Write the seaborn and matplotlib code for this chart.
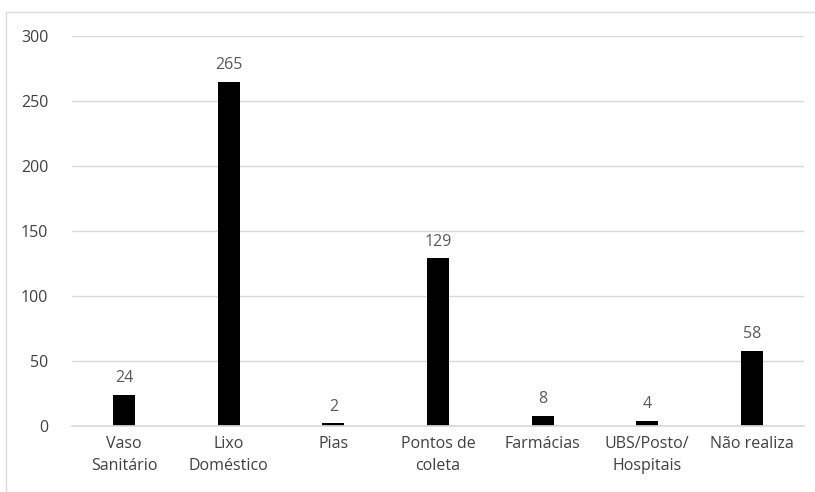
import matplotlib
matplotlib.use("Agg")
import matplotlib.pyplot as plt
import seaborn as sns
import pandas as pd
from matplotlib.patches import Rectangle

categories = ["Vaso\nSanitário", "Lixo\nDoméstico", "Pias", "Pontos de\ncoleta",
              "Farmácias", "UBS/Posto/\nHospitais", "Não realiza"]
values = [24, 265, 2, 129, 8, 4, 58]
yticks = [0, 50, 100, 150, 200, 250, 300]

df = pd.DataFrame({"cat": categories, "val": values})

sns.set_theme(style="white")
plt.rcParams["font.family"] = ["Open Sans", "DejaVu Sans"]

text_color = "#595959"
fig = plt.figure(figsize=(8.15, 4.92), dpi=100)
ax = fig.add_axes([72 / 815, 1 - 426 / 492, 732 / 815, 390 / 492])

sns.barplot(data=df, x="cat", y="val", color="black", width=0.21,
            saturation=1, edgecolor="black", linewidth=0, ax=ax)

ax.set_ylim(0, 300)
ax.set_xlim(-0.5, len(categories) - 0.5)
ax.set_yticks(yticks)
ax.yaxis.grid(True, color="#d9d9d9", linewidth=1)
ax.set_axisbelow(True)
ax.set_xlabel("")
ax.set_ylabel("")
for s in ["top", "right", "left"]:
    ax.spines[s].set_visible(False)
ax.spines["bottom"].set_color("#d9d9d9")
ax.tick_params(axis="both", length=0, labelsize=11.5, colors=text_color)
ax.tick_params(axis="y", pad=17)
ax.tick_params(axis="x", pad=7)
for lbl in ax.get_xticklabels() + ax.get_yticklabels():
    lbl.set_color("#404040")
for lbl in ax.get_xticklabels():
    lbl.set_linespacing(1.55)

for container in ax.containers:
    ax.bar_label(container, padding=6, fontsize=11.5, color=text_color)

fig.patches.append(Rectangle((6 / 815, -0.1), 1.2, 1 - 12 / 492 + 0.1,
                             transform=fig.transFigure, fill=False,
                             edgecolor="#d9d9d9", linewidth=1))

fig.savefig("out.png", dpi=100)
